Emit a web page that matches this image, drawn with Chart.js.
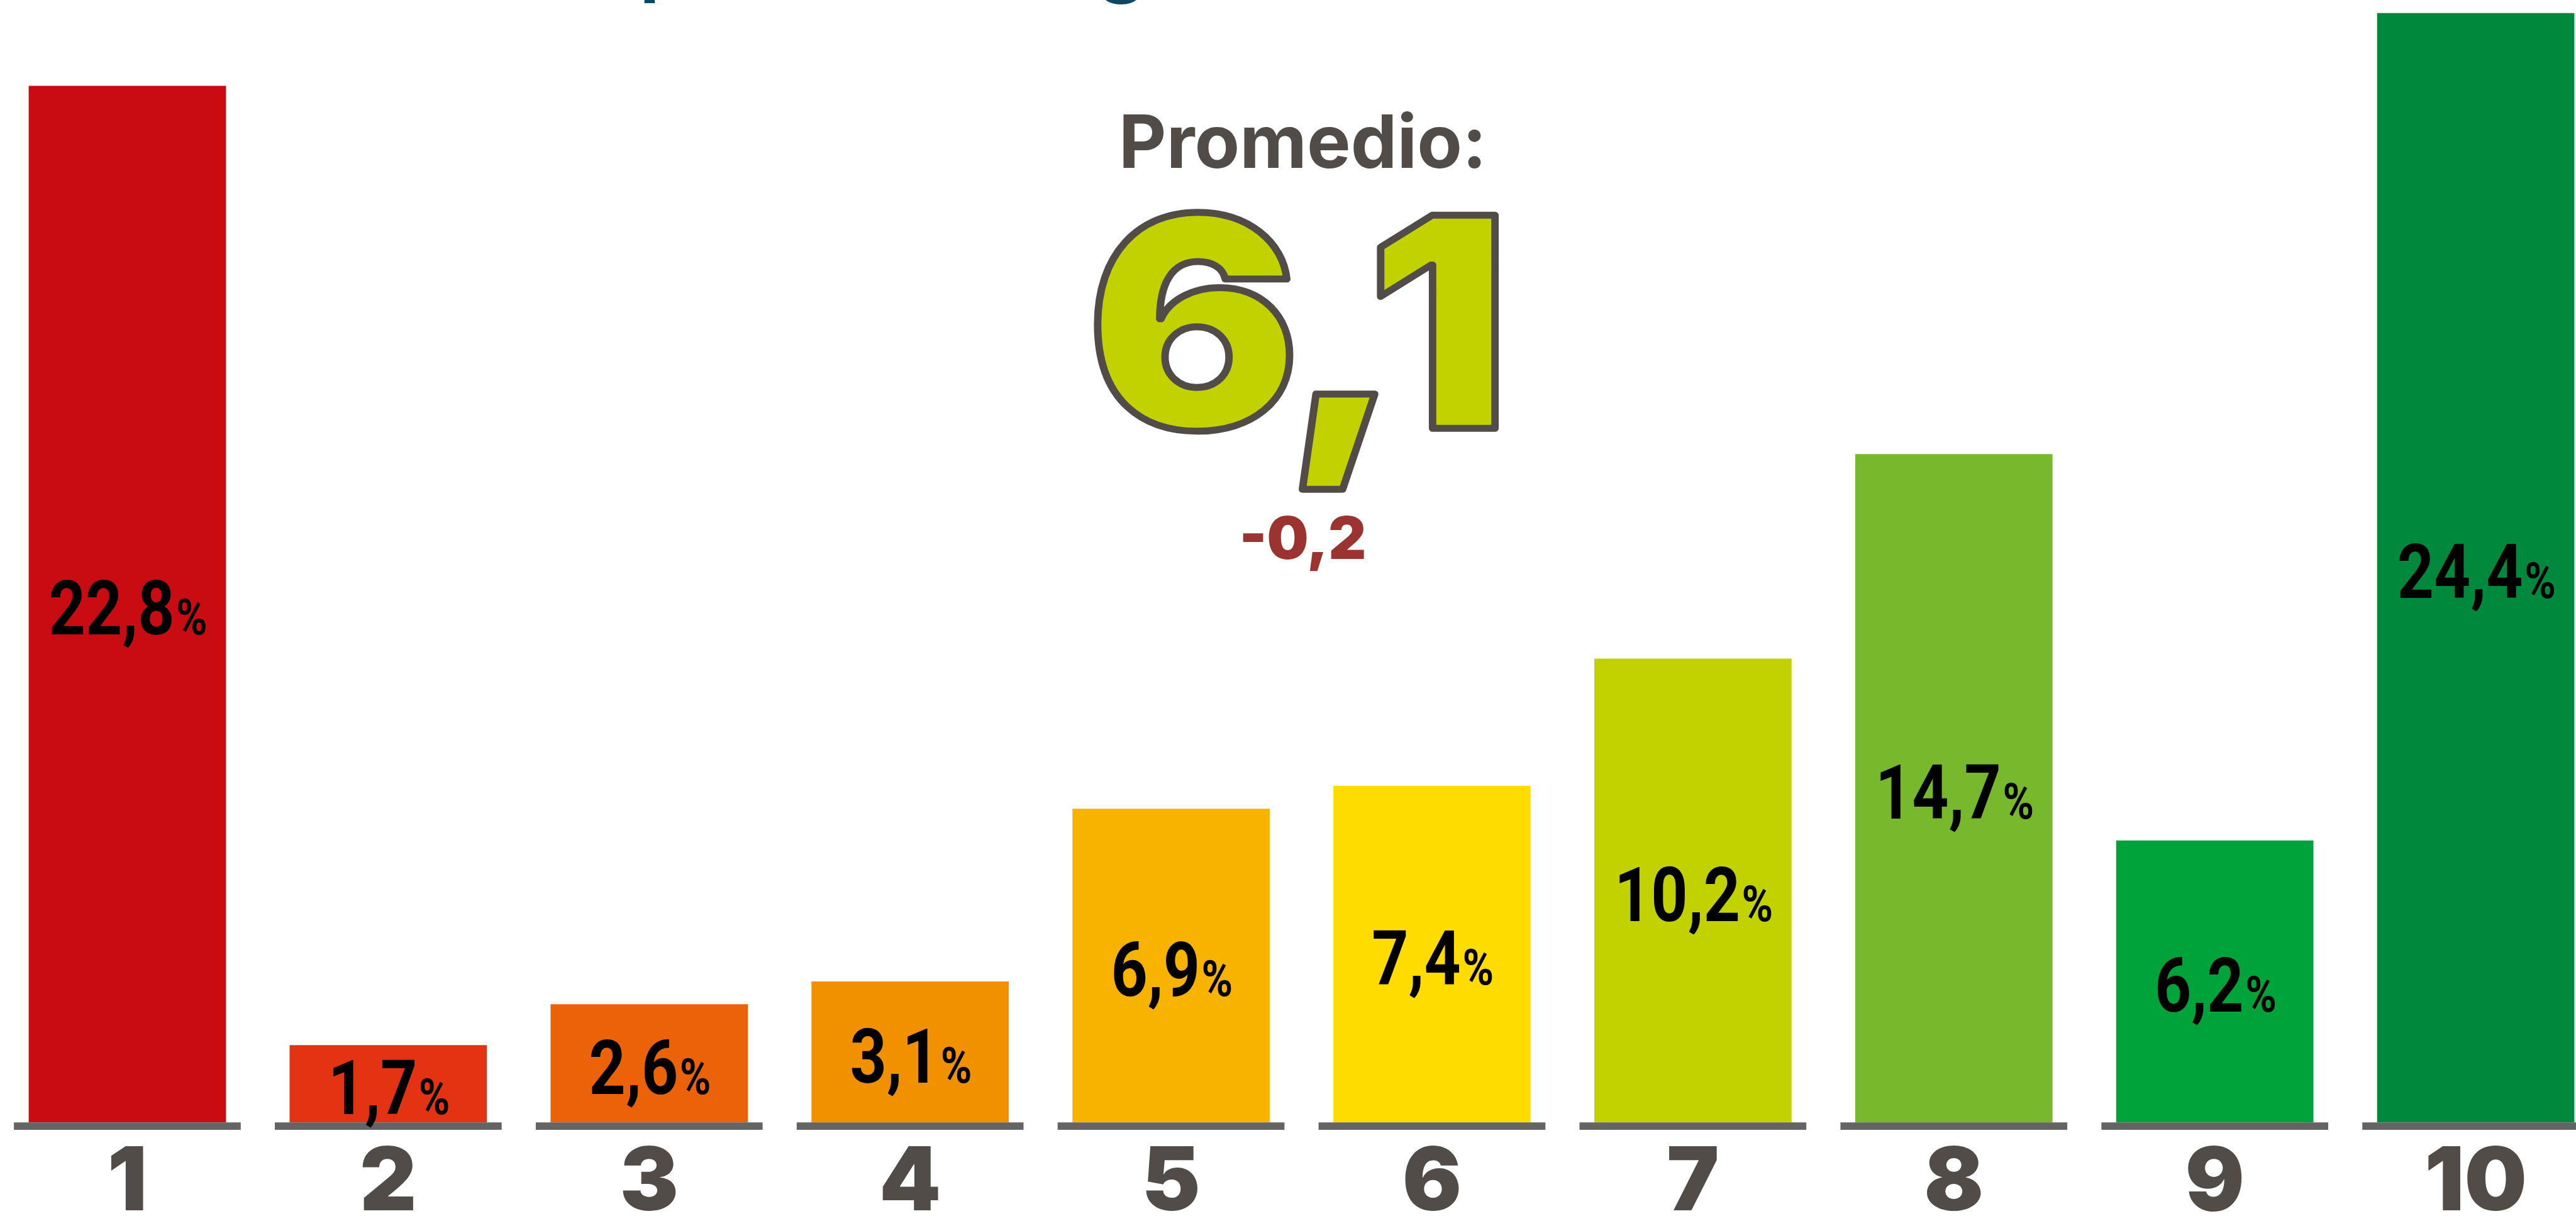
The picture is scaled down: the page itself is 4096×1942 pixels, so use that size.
<!DOCTYPE html>
<html>
<head>
<meta charset="utf-8">
<script src="https://cdn.jsdelivr.net/npm/chart.js@4.4.1/dist/chart.umd.min.js"></script>
<style>
  html, body { margin: 0; padding: 0; background: #fff; overflow: hidden; width: 4096px; height: 1942px; }
  #wrap { position: absolute; left: -5.43px; top: 0; }
</style>
</head>
<body>
<div id="wrap"><canvas id="notasChart" width="4149" height="1980"></canvas></div>
<script>
// Datos
const notas = ["1", "2", "3", "4", "5", "6", "7", "8", "9", "10"];
const porcentajes = [22.8, 1.7, 2.6, 3.1, 6.9, 7.4, 10.2, 14.7, 6.2, 24.4];
const colores = ["#C90C11", "#E43312", "#EB6209", "#F29100", "#F8B200", "#FFDC00", "#C1D200", "#77B82C", "#00A23A", "#00883C"];
const promedio = "6,1";
const variacion = "-0,2";
const titulo = "Nota promedio según";

const S = 0.904;   // escala respecto a la referencia
const OX = 5.43;   // el canvas esta corrido a la izquierda
const K = 0.84;    // compresion horizontal de las etiquetas

const gris = "#514C48";

const decoraciones = {
  id: "decoraciones",
  afterDatasetsDraw(chart) {
    const ctx = chart.ctx;
    const meta = chart.getDatasetMeta(0);
    ctx.save();
    meta.data.forEach((bar, i) => {
      const w = bar.width;
      // base gris bajo cada barra
      ctx.fillStyle = "#646464";
      ctx.fillRect(bar.x - w / 2 - 26 * S, bar.base, w + 52 * S, 13 * S);

      // etiqueta: numero grande + % chico
      const num = porcentajes[i].toFixed(1).replace(".", ",");
      const fNum = "bold 121px Roboto";
      const fPct = "bold 80px Roboto";
      ctx.font = fNum;
      const wNum = ctx.measureText(num).width;
      ctx.font = fPct;
      const wPct = ctx.measureText("%").width;
      const mid = (bar.y + bar.base) / 2;
      const baseline = mid + 48.4;
      const x0 = bar.x - K * (wNum + wPct) / 2;
      ctx.save();
      ctx.translate(x0, baseline);
      ctx.scale(K, 1);
      ctx.fillStyle = "#000";
      ctx.textAlign = "left";
      ctx.textBaseline = "alphabetic";
      ctx.font = fNum;
      ctx.fillText(num, 0, 0);
      ctx.font = fPct;
      ctx.fillText("%", wNum + 3, 0);
      ctx.restore();
    });
    ctx.restore();
  },
  afterDraw(chart) {
    const ctx = chart.ctx;
    const cx = 2071 + OX;
    ctx.save();
    ctx.textBaseline = "alphabetic";

    // titulo (cortado arriba)
    ctx.font = "bold 100px Lato";
    const d = ctx.measureText("promedio se").width;
    const fs = 100 * (1749 - 1016) / d;
    ctx.font = `bold ${fs}px Lato`;
    const pre = ctx.measureText("Nota ").width;
    const desc = ctx.measureText("p").actualBoundingBoxDescent;
    ctx.fillStyle = "#0A4864";
    ctx.textAlign = "left";
    ctx.fillText(titulo, 1016 + OX - pre, 5 - desc);

    // Promedio:
    ctx.textAlign = "center";
    ctx.fillStyle = gris;
    ctx.font = "bold 117px Inter";
    ctx.fillText("Promedio:", cx, 266.7);

    // 6,1 con contorno
    ctx.save();
    ctx.translate(2058.6 + OX, 681.3);
    ctx.scale(1.08, 1);
    ctx.font = "900 466px Inter";
    ctx.letterSpacing = "-10px";
    ctx.fillStyle = "#C1D200";
    ctx.fillText(promedio, 0, 0);
    ctx.lineJoin = "round";
    ctx.lineWidth = 11;
    ctx.strokeStyle = gris;
    ctx.strokeText(promedio, 0, 0);
    ctx.restore();

    // variacion
    ctx.font = "900 93px Inter";
    ctx.fillStyle = "#9B3431";
    ctx.fillText(variacion, cx, 888.6);
    ctx.restore();
  }
};

const ctx = document.getElementById("notasChart").getContext("2d");
new Chart(ctx, {
  type: "bar",
  data: {
    labels: notas,
    datasets: [{
      data: porcentajes,
      backgroundColor: colores,
      borderWidth: 0,
      categoryPercentage: 1,
      barPercentage: 347 / 459,
    }],
  },
  options: {
    responsive: false,
    animation: false,
    layout: { padding: { top: 1785.4 - 24.6 * 72.32, left: 0, right: 0, bottom: 0 } },
    scales: {
      x: {
        grid: { display: false, drawTicks: false },
        border: { display: false },
        ticks: {
          color: gris,
          padding: 27.4,
          maxRotation: 0,
          autoSkip: false,
          font: { family: "Inter", weight: 900, size: 140, lineHeight: 1 },
        },
      },
      y: { display: false, min: 0, max: 24.6 },
    },
    plugins: {
      legend: { display: false },
      tooltip: { enabled: false },
    },
  },
  plugins: [decoraciones],
});
</script>
</body>
</html>
